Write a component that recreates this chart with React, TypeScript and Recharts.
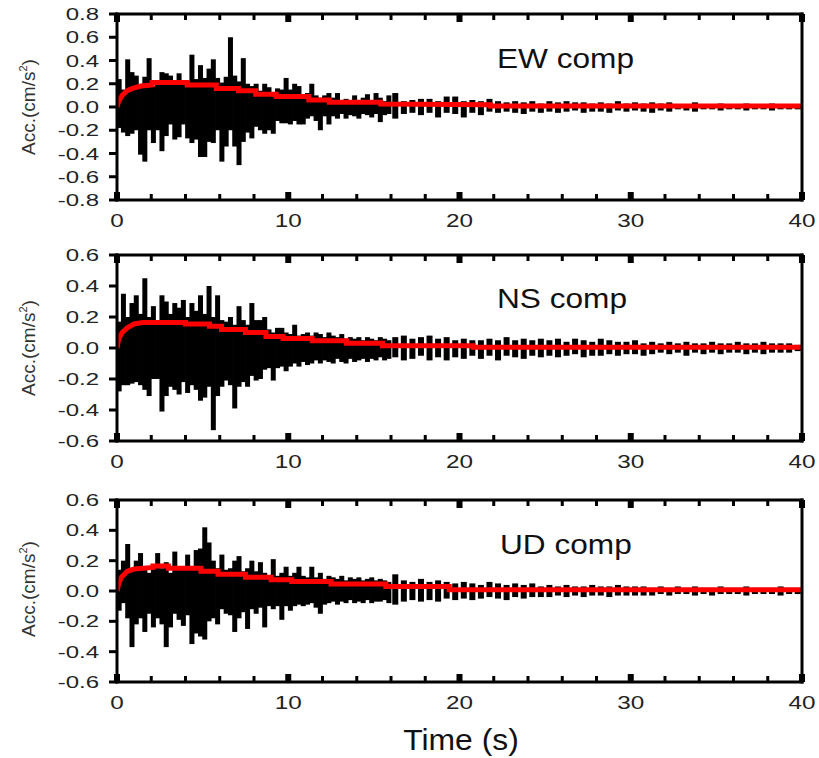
import React from 'react';
import { ComposedChart, Bar, Line, XAxis, YAxis } from 'recharts';

// sampling grid (bin centres, s): 0.25 s bins up to 16 s, then 0.5 s bins
const times: number[] = [...Array(64)].map((_, i) => 0.125 + i * 0.25)
  .concat([...Array(48)].map((_, i) => 16.25 + i * 0.5));

// EW component, max / min of each bin (cm/s2)
const ewHi = [
  0.24, 0.15, 0.41, 0.30, 0.27, 0.18, 0.26, 0.42,
  0.18, 0.22, 0.30, 0.29, 0.27, 0.20, 0.29, 0.20,
  0.22, 0.45, 0.24, 0.36, 0.25, 0.33, 0.41, 0.25,
  0.21, 0.26, 0.60, 0.27, 0.22, 0.42, 0.20, 0.18,
  0.20, 0.14, 0.20, 0.17, 0.12, 0.16, 0.15, 0.25,
  0.15, 0.20, 0.18, 0.10, 0.12, 0.20, 0.10, 0.08,
  0.10, 0.12, 0.08, 0.12, 0.06, 0.07, 0.06, 0.10,
  0.05, 0.08, 0.11, 0.06, 0.12, 0.08, 0.05, 0.10,
  0.12, 0.05, 0.06, 0.07, 0.07, 0.05, 0.09, 0.09,
  0.05, 0.06, 0.05, 0.07, 0.05, 0.04, 0.05, 0.04,
  0.05, 0.03, 0.05, 0.04, 0.05, 0.04, 0.04, 0.03,
  0.04, 0.03, 0.05, 0.03, 0.04, 0.03, 0.04, 0.03,
  0.04, 0.02, 0.02, 0.04, 0.02, 0.02, 0.03, 0.02,
  0.02, 0.03, 0.02, 0.02, 0.03, 0.02, 0.02, 0.02,
];
const ewLo = [
  -0.18, -0.22, -0.25, -0.23, -0.20, -0.41, -0.47, -0.20,
  -0.31, -0.20, -0.38, -0.25, -0.15, -0.28, -0.26, -0.15,
  -0.27, -0.31, -0.28, -0.43, -0.43, -0.30, -0.31, -0.20,
  -0.47, -0.34, -0.20, -0.34, -0.50, -0.30, -0.22, -0.27,
  -0.17, -0.20, -0.23, -0.20, -0.23, -0.12, -0.14, -0.14,
  -0.15, -0.12, -0.15, -0.15, -0.10, -0.08, -0.12, -0.20,
  -0.08, -0.15, -0.08, -0.10, -0.06, -0.10, -0.07, -0.08,
  -0.10, -0.06, -0.07, -0.09, -0.06, -0.13, -0.07, -0.06,
  -0.10, -0.06, -0.05, -0.07, -0.05, -0.09, -0.05, -0.06,
  -0.09, -0.05, -0.07, -0.04, -0.05, -0.04, -0.05, -0.06,
  -0.04, -0.05, -0.04, -0.05, -0.04, -0.03, -0.05, -0.04,
  -0.04, -0.05, -0.03, -0.04, -0.03, -0.04, -0.05, -0.03,
  -0.04, -0.02, -0.03, -0.04, -0.02, -0.02, -0.03, -0.02,
  -0.02, -0.03, -0.02, -0.02, -0.03, -0.02, -0.02, -0.02,
];

// NS component
const nsHi = [
  0.17, 0.35, 0.20, 0.29, 0.34, 0.22, 0.45, 0.20,
  0.27, 0.18, 0.34, 0.30, 0.22, 0.29, 0.26, 0.31,
  0.20, 0.29, 0.24, 0.34, 0.22, 0.40, 0.20, 0.34,
  0.18, 0.17, 0.20, 0.15, 0.27, 0.18, 0.15, 0.29,
  0.18, 0.18, 0.20, 0.12, 0.10, 0.13, 0.13, 0.10,
  0.09, 0.15, 0.08, 0.09, 0.10, 0.08, 0.10, 0.09,
  0.07, 0.10, 0.08, 0.07, 0.09, 0.06, 0.07, 0.06,
  0.07, 0.05, 0.07, 0.06, 0.05, 0.07, 0.06, 0.05,
  0.07, 0.08, 0.06, 0.07, 0.08, 0.06, 0.07, 0.05,
  0.06, 0.05, 0.05, 0.06, 0.05, 0.07, 0.05, 0.06,
  0.05, 0.06, 0.05, 0.06, 0.04, 0.06, 0.05, 0.04,
  0.06, 0.05, 0.04, 0.04, 0.05, 0.03, 0.04, 0.03,
  0.04, 0.03, 0.04, 0.03, 0.03, 0.04, 0.03, 0.03,
  0.04, 0.03, 0.03, 0.04, 0.03, 0.03, 0.03, 0.02,
];
const nsLo = [
  -0.28, -0.24, -0.24, -0.23, -0.22, -0.24, -0.27, -0.31,
  -0.20, -0.20, -0.41, -0.31, -0.25, -0.27, -0.30, -0.22,
  -0.29, -0.24, -0.27, -0.34, -0.32, -0.25, -0.53, -0.31,
  -0.25, -0.21, -0.24, -0.39, -0.25, -0.22, -0.25, -0.18,
  -0.21, -0.20, -0.14, -0.13, -0.21, -0.13, -0.12, -0.15,
  -0.12, -0.10, -0.12, -0.09, -0.11, -0.10, -0.08, -0.10,
  -0.08, -0.09, -0.10, -0.07, -0.09, -0.10, -0.07, -0.09,
  -0.08, -0.07, -0.09, -0.07, -0.08, -0.06, -0.08, -0.07,
  -0.06, -0.08, -0.07, -0.05, -0.08, -0.06, -0.08, -0.06,
  -0.07, -0.05, -0.07, -0.05, -0.08, -0.05, -0.06, -0.07,
  -0.05, -0.06, -0.05, -0.06, -0.05, -0.04, -0.06, -0.05,
  -0.05, -0.04, -0.05, -0.04, -0.04, -0.05, -0.04, -0.03,
  -0.04, -0.03, -0.05, -0.03, -0.04, -0.03, -0.04, -0.03,
  -0.03, -0.04, -0.03, -0.04, -0.03, -0.03, -0.03, -0.02,
];

// UD component
const udHi = [
  0.14, 0.20, 0.31, 0.15, 0.20, 0.25, 0.16, 0.12,
  0.15, 0.25, 0.15, 0.19, 0.12, 0.26, 0.14, 0.15,
  0.24, 0.14, 0.27, 0.28, 0.42, 0.32, 0.20, 0.15,
  0.24, 0.14, 0.15, 0.20, 0.23, 0.13, 0.15, 0.20,
  0.13, 0.19, 0.12, 0.10, 0.21, 0.10, 0.12, 0.16,
  0.10, 0.12, 0.16, 0.10, 0.09, 0.16, 0.09, 0.12,
  0.08, 0.10, 0.09, 0.08, 0.10, 0.07, 0.09, 0.08,
  0.09, 0.07, 0.08, 0.09, 0.07, 0.08, 0.07, 0.06,
  0.11, 0.07, 0.06, 0.08, 0.06, 0.07, 0.06, 0.05,
  0.06, 0.05, 0.04, 0.06, 0.05, 0.04, 0.05, 0.04,
  0.05, 0.03, 0.04, 0.03, 0.04, 0.03, 0.03, 0.04,
  0.03, 0.03, 0.04, 0.03, 0.03, 0.03, 0.02, 0.03,
  0.02, 0.03, 0.02, 0.03, 0.02, 0.02, 0.03, 0.02,
  0.02, 0.03, 0.02, 0.02, 0.02, 0.03, 0.02, 0.02,
];
const udLo = [
  -0.13, -0.08, -0.18, -0.37, -0.22, -0.18, -0.27, -0.15,
  -0.24, -0.18, -0.22, -0.37, -0.24, -0.15, -0.19, -0.23,
  -0.16, -0.35, -0.28, -0.30, -0.32, -0.20, -0.18, -0.22,
  -0.12, -0.15, -0.16, -0.27, -0.18, -0.14, -0.25, -0.12,
  -0.15, -0.11, -0.24, -0.10, -0.12, -0.10, -0.19, -0.10,
  -0.13, -0.10, -0.09, -0.10, -0.09, -0.08, -0.11, -0.15,
  -0.09, -0.08, -0.07, -0.09, -0.07, -0.08, -0.06, -0.08,
  -0.07, -0.08, -0.06, -0.08, -0.07, -0.07, -0.06, -0.08,
  -0.09, -0.07, -0.06, -0.07, -0.06, -0.07, -0.05, -0.06,
  -0.05, -0.06, -0.05, -0.04, -0.05, -0.06, -0.04, -0.05,
  -0.04, -0.04, -0.04, -0.03, -0.04, -0.03, -0.04, -0.03,
  -0.03, -0.04, -0.03, -0.03, -0.03, -0.03, -0.03, -0.02,
  -0.03, -0.02, -0.02, -0.03, -0.02, -0.03, -0.02, -0.02,
  -0.02, -0.03, -0.02, -0.02, -0.02, -0.03, -0.02, -0.02,
];

// red envelopes (time, value)
const ewEnvT = [0, 0.1, 0.3, 0.6, 0.9, 1.4, 2.05, 2.05, 4.1, 4.1, 5.8, 5.8, 7.1, 7.1, 8.1, 8.1, 9.3, 9.3, 11.2, 11.2, 12.4, 12.4, 15.4, 15.4, 21.8, 21.8, 40];
const ewEnvV = [0, 0.05, 0.10, 0.14, 0.16, 0.18, 0.19, 0.21, 0.21, 0.19, 0.19, 0.16, 0.16, 0.14, 0.14, 0.11, 0.11, 0.09, 0.09, 0.06, 0.06, 0.04, 0.04, 0.025, 0.02, 0.008, 0.008];
const nsEnvT = [0, 0.1, 0.3, 0.6, 1.0, 1.5, 4.0, 4.0, 5.4, 5.4, 6.1, 6.1, 7.5, 7.5, 8.7, 8.7, 9.7, 9.7, 11.4, 11.4, 13.4, 13.4, 15.5, 15.5, 20.8, 20.8, 40];
const nsEnvV = [0, 0.06, 0.10, 0.13, 0.155, 0.165, 0.165, 0.155, 0.155, 0.14, 0.14, 0.12, 0.12, 0.10, 0.10, 0.075, 0.075, 0.062, 0.062, 0.047, 0.047, 0.03, 0.03, 0.015, 0.015, 0.005, 0.005];
const udEnvT = [0, 0.1, 0.25, 0.6, 1.0, 2.1, 2.1, 3.0, 3.0, 4.9, 4.9, 5.9, 5.9, 7.5, 7.5, 9.0, 9.0, 10.2, 10.2, 12.5, 12.5, 15.7, 15.7, 19.4, 19.4, 40];
const udEnvV = [0, 0.05, 0.09, 0.13, 0.145, 0.155, 0.165, 0.165, 0.15, 0.15, 0.13, 0.13, 0.11, 0.11, 0.09, 0.09, 0.075, 0.075, 0.062, 0.062, 0.046, 0.046, 0.029, 0.029, 0.009, 0.009];

const xTicks = [0, 2, 4, 6, 8, 10, 12, 14, 16, 18, 20, 22, 24, 26, 28, 30, 32, 34, 36, 38, 40];
const yTicks8 = [-0.8, -0.6, -0.4, -0.2, 0, 0.2, 0.4, 0.6, 0.8];
const yTicks6 = [-0.6, -0.4, -0.2, 0, 0.2, 0.4, 0.6];

const FONT = '"Liberation Sans", Arial, sans-serif';

// bars come out hairline-thin on a number axis, so draw them with a fixed width around the slot centre
const Spike = (props: any) => {
  const { x, y, width, height, payload } = props;
  if (height == null || isNaN(y)) return null;
  const w = payload && payload.t > 16 ? 6 : 5;
  const top = height < 0 ? y + height : y;
  return <rect x={x + width / 2 - w / 2} y={top} width={w} height={Math.abs(height)} fill="#000" />;
};

const BottomTick = (props: any) => {
  const { x, y, payload } = props;
  const major = payload.value % 10 === 0;
  return (
    <g>
      <rect x={x - (major ? 3 : 1.5)} y={y - (major ? 8 : 6)} width={major ? 6 : 3} height={major ? 8 : 6} fill="#000" />
      {major && (
        <text transform={`translate(${x},${y + 27}) scale(1.35,1)`} textAnchor="middle" fontSize={18} fontFamily={FONT} fill="#222">
          {payload.value}
        </text>
      )}
    </g>
  );
};

const TopTick = (props: any) => {
  const { x, y, payload } = props;
  const major = payload.value % 10 === 0;
  return <rect x={x - (major ? 3 : 1.5)} y={y} width={major ? 6 : 3} height={major ? 8 : 6} fill="#000" />;
};

const LeftTick = (props: any) => {
  const { x, y, payload } = props;
  const v = Math.abs(payload.value) < 1e-9 ? '0.0' : payload.value.toFixed(1);
  return (
    <g>
      <rect x={x + 10} y={y - 1.5} width={8} height={3} fill="#000" />
      <text transform={`translate(${x},${y + 6}) scale(1.5,1)`} textAnchor="end" fontSize={16} fontFamily={FONT} fill="#222">
        {v}
      </text>
    </g>
  );
};

type PanelProps = {
  hi: number[];
  lo: number[];
  envT: number[];
  envV: number[];
  yMax: number;
  yTicks: number[];
  plotH: number;
  top: number;
};

function Panel({ hi, lo, envT, envV, yMax, yTicks, plotH, top }: PanelProps) {
  const rows = times.map((t, i) => ({ t, hi: hi[i], lo: lo[i] }));
  const env = envT.map((t, i) => ({ t, v: envV[i] }));
  const axisLine = { stroke: '#000', strokeWidth: 3, strokeLinecap: 'square' as const };
  return (
    <div style={{ position: 'absolute', left: 0, top }}>
      <ComposedChart width={819} height={14 + plotH + 40} data={rows} margin={{ top: 13, right: 16, bottom: 0, left: 17 }}>
        <XAxis dataKey="t" type="number" domain={[0, 40]} ticks={xTicks} interval={0} allowDataOverflow
          height={40} tickSize={0} tickMargin={0} tick={<BottomTick />} axisLine={axisLine} />
        <XAxis xAxisId="top" dataKey="t" type="number" orientation="top" domain={[0, 40]} ticks={xTicks} interval={0}
          allowDataOverflow height={1} tickSize={0} tickMargin={0} tick={<TopTick />} axisLine={axisLine} />
        <YAxis type="number" domain={[-yMax, yMax]} ticks={yTicks} interval={0} allowDataOverflow width={100}
          tickSize={0} tickMargin={18} tickLine={false} tick={<LeftTick />} axisLine={axisLine} />
        <YAxis yAxisId="r" orientation="right" type="number" domain={[-yMax, yMax]} width={1} tick={false}
          tickLine={false} axisLine={axisLine} />
        <Bar dataKey={(d: any) => [d.lo, d.hi]} fill="#000" shape={<Spike />} isAnimationActive={false} />
        <Line data={env} dataKey="v" type="linear" stroke="#ff0000" strokeWidth={5} dot={false} activeDot={false}
          isAnimationActive={false} />
      </ComposedChart>
    </div>
  );
}

export default function App() {
  return (
    <div style={{ position: 'absolute', left: 0, top: 0, width: 819, height: 758, background: '#fff' }}>
      <Panel hi={ewHi} lo={ewLo} envT={ewEnvT} envV={ewEnvV} yMax={0.8} yTicks={yTicks8} plotH={186} top={0} />
      <Panel hi={nsHi} lo={nsLo} envT={nsEnvT} envV={nsEnvV} yMax={0.6} yTicks={yTicks6} plotH={186} top={241} />
      <Panel hi={udHi} lo={udLo} envT={udEnvT} envV={udEnvV} yMax={0.6} yTicks={yTicks6} plotH={182} top={486} />
      <svg width={819} height={758} style={{ position: 'absolute', left: 0, top: 0, pointerEvents: 'none' }} fontFamily={FONT}>
        <text transform="translate(497,68) scale(1.13,1)" fontSize={28} fill="#111">EW comp</text>
        <text transform="translate(497,308) scale(1.13,1)" fontSize={28} fill="#111">NS comp</text>
        <text transform="translate(500,554) scale(1.13,1)" fontSize={28} fill="#111">UD comp</text>
        {[107, 348, 589].map((cy) => (
          <text key={cy} transform={`translate(35,${cy}) rotate(-90)`} textAnchor="middle" fontSize={19} fill="#333">
            Acc.(cm/s<tspan fontSize={11} dy={-8}>2</tspan><tspan dy={8}>)</tspan>
          </text>
        ))}
        <text transform="translate(461,750) scale(1.1,1)" textAnchor="middle" fontSize={29} fill="#111">Time (s)</text>
      </svg>
    </div>
  );
}
